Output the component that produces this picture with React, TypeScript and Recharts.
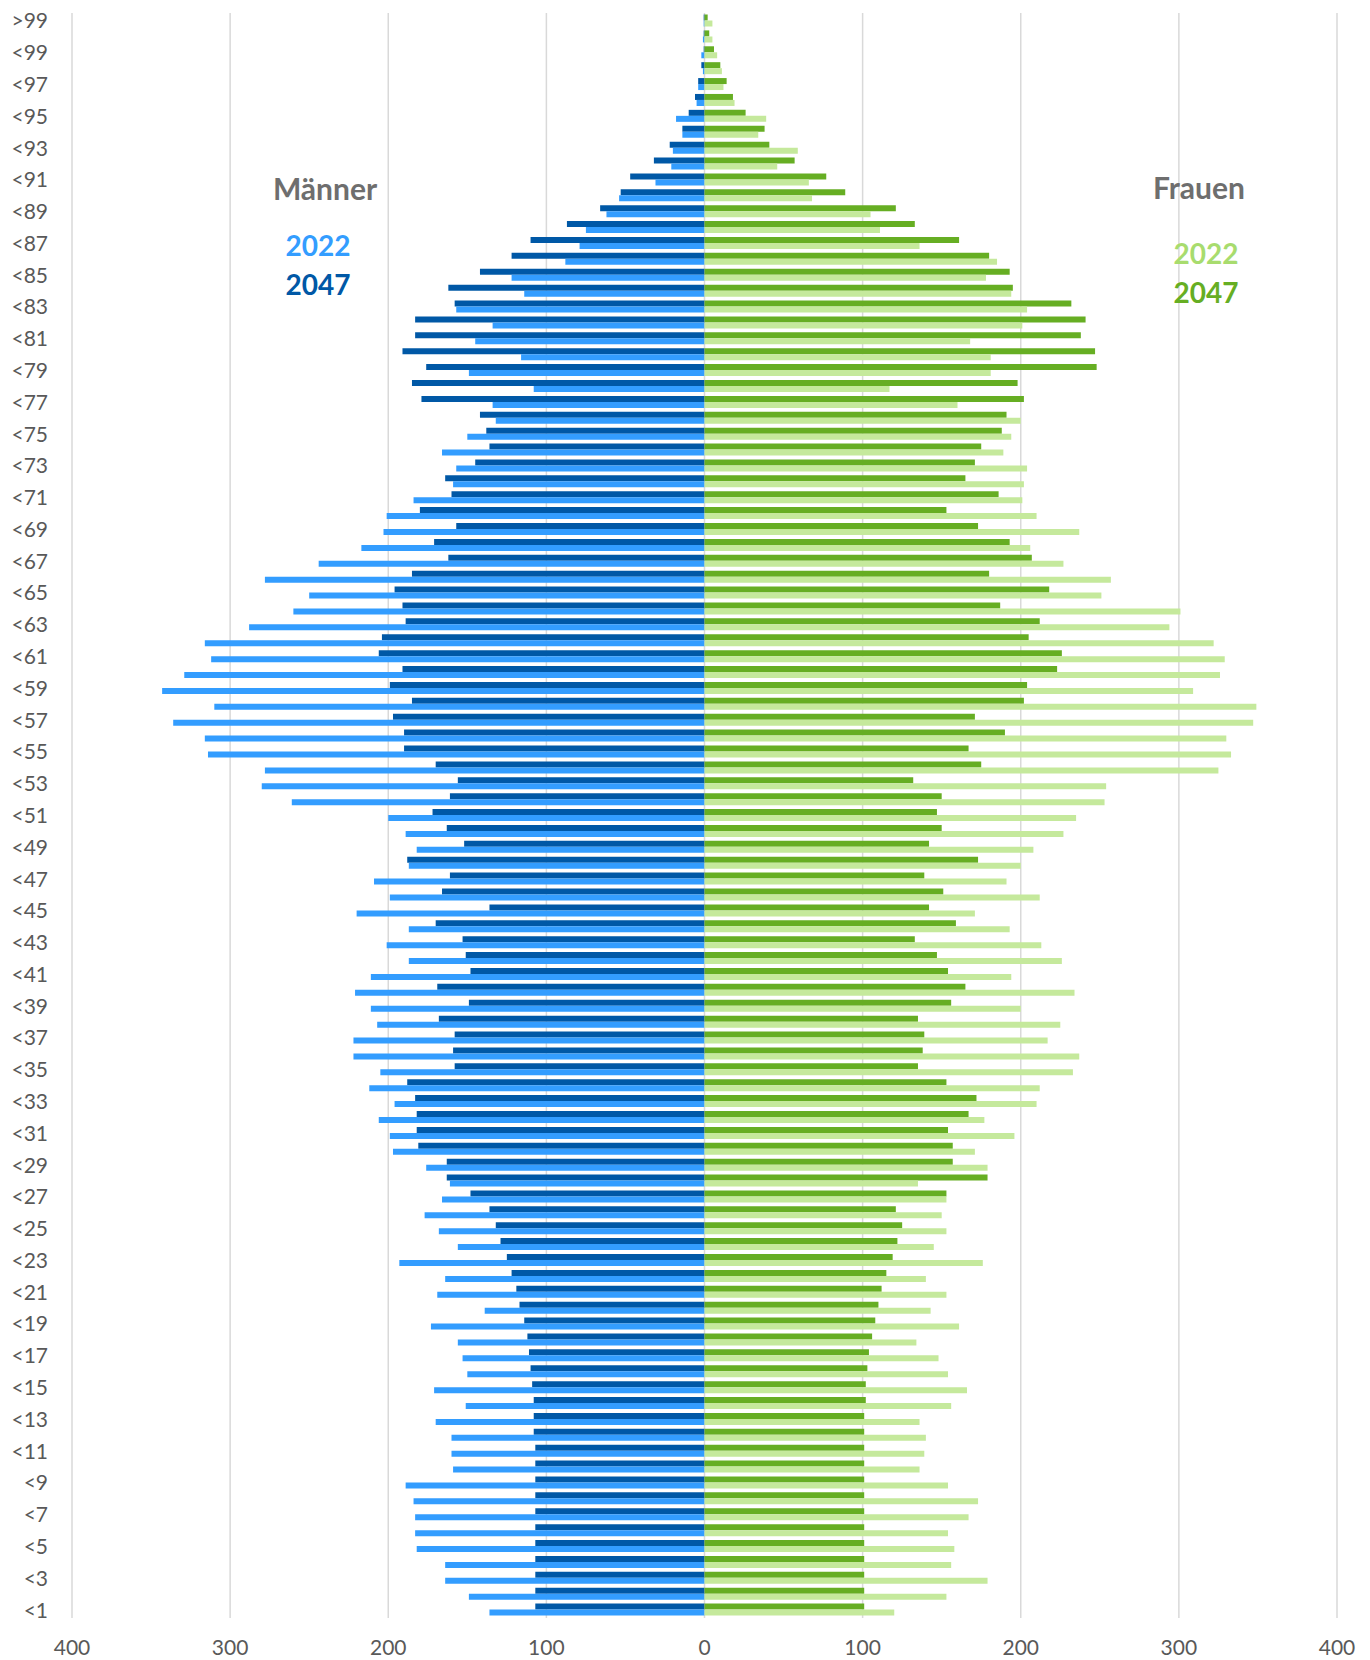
import React from 'react';
import { Bar, BarChart, CartesianGrid, XAxis, YAxis } from 'recharts';

// Altersklassen von oben nach unten
const altersklassen = [
  '>99', '<100', '<99', '<98', '<97', '<96', '<95', '<94', '<93', '<92',
  '<91', '<90', '<89', '<88', '<87', '<86', '<85', '<84', '<83', '<82',
  '<81', '<80', '<79', '<78', '<77', '<76', '<75', '<74', '<73', '<72',
  '<71', '<70', '<69', '<68', '<67', '<66', '<65', '<64', '<63', '<62',
  '<61', '<60', '<59', '<58', '<57', '<56', '<55', '<54', '<53', '<52',
  '<51', '<50', '<49', '<48', '<47', '<46', '<45', '<44', '<43', '<42',
  '<41', '<40', '<39', '<38', '<37', '<36', '<35', '<34', '<33', '<32',
  '<31', '<30', '<29', '<28', '<27', '<26', '<25', '<24', '<23', '<22',
  '<21', '<20', '<19', '<18', '<17', '<16', '<15', '<14', '<13', '<12',
  '<11', '<10', '<9', '<8', '<7', '<6', '<5', '<4', '<3', '<2',
  '<1',
];

const maenner2047 = [
  0.5, 0.5, 0.5, 2, 4, 6, 10, 14, 22, 32,
  47, 53, 66, 87, 110, 122, 142, 162, 158, 183,
  183, 191, 176, 185, 179, 142, 138, 136, 145, 164,
  160, 180, 157, 171, 162, 185, 196, 191, 189, 204,
  206, 191, 199, 185, 197, 190, 190, 170, 156, 161,
  172, 163, 152, 188, 161, 166, 136, 170, 153, 151,
  148, 169, 149, 168, 158, 159, 158, 188, 183, 182,
  182, 181, 163, 163, 148, 136, 132, 129, 125, 122,
  119, 117, 114, 112, 111, 110, 109, 108, 108, 108,
  107, 107, 107, 107, 107, 107, 107, 107, 107, 107,
  107,
];

const maenner2022 = [
  0.5, 1, 2, 1, 4, 5, 18, 14, 20, 21,
  31, 54, 62, 75, 79, 88, 122, 114, 157, 134,
  145, 116, 149, 108, 134, 132, 150, 166, 157, 159,
  184, 201, 203, 217, 244, 278, 250, 260, 288, 316,
  312, 329, 343, 310, 336, 316, 314, 278, 280, 261,
  200, 189, 182, 187, 209, 199, 220, 187, 201, 187,
  211, 221, 211, 207, 222, 222, 205, 212, 196, 206,
  199, 197, 176, 161, 166, 177, 168, 156, 193, 164,
  169, 139, 173, 156, 153, 150, 171, 151, 170, 160,
  160, 159, 189, 184, 183, 183, 182, 164, 164, 149,
  136,
];

const frauen2047 = [
  2, 3, 6, 10, 14, 18, 26, 38, 41, 57,
  77, 89, 121, 133, 161, 180, 193, 195, 232, 241,
  238, 247, 248, 198, 202, 191, 188, 175, 171, 165,
  186, 153, 173, 193, 207, 180, 218, 187, 212, 205,
  226, 223, 204, 202, 171, 190, 167, 175, 132, 150,
  147, 150, 142, 173, 139, 151, 142, 159, 133, 147,
  154, 165, 156, 135, 139, 138, 135, 153, 172, 167,
  154, 157, 157, 179, 153, 121, 125, 122, 119, 115,
  112, 110, 108, 106, 104, 103, 102, 102, 101, 101,
  101, 101, 101, 101, 101, 101, 101, 101, 101, 101,
  101,
];

const frauen2022 = [
  5, 5, 8, 11, 12, 19, 39, 34, 59, 46,
  66, 68, 105, 111, 136, 185, 178, 194, 204, 201,
  168, 181, 181, 117, 160, 200, 194, 189, 204, 202,
  201, 210, 237, 206, 227, 257, 251, 301, 294, 322,
  329, 326, 309, 349, 347, 330, 333, 325, 254, 253,
  235, 227, 208, 200, 191, 212, 171, 193, 213, 226,
  194, 234, 200, 225, 217, 237, 233, 212, 210, 177,
  196, 171, 179, 135, 153, 150, 153, 145, 176, 140,
  153, 143, 161, 134, 148, 154, 166, 156, 136, 140,
  139, 136, 154, 173, 167, 154, 158, 156, 179, 153,
  120,
];

const xTicks = [-400, -300, -200, -100, 0, 100, 200, 300, 400];

const FARBE = {
  m2022: '#339DFF',
  m2047: '#0058A6',
  f2022: '#C5E99C',
  f2047: '#66AE23',
  text: '#595959',
  titel: '#6E6E6E',
  grid: '#D9D9D9',
};

const FONT = 'Lato, "Open Sans", sans-serif';

const rows = altersklassen.map((label, i) => ({
  label,
  m2047: -maenner2047[i],
  f2047: frauen2047[i],
  m2022: -maenner2022[i],
  f2022: frauen2022[i],
}));

function Beschriftung({
  x,
  y,
  color,
  size,
  children,
}: {
  x: number;
  y: number;
  color: string;
  size: number;
  children: React.ReactNode;
}) {
  return (
    <div
      style={{
        position: 'absolute',
        left: x,
        top: y,
        transform: 'translate(-50%, -50%)',
        color,
        fontSize: size,
        fontWeight: 700,
        fontFamily: FONT,
        whiteSpace: 'nowrap',
        lineHeight: 1,
      }}
    >
      {children}
    </div>
  );
}

export default function App() {
  return (
    <div style={{ position: 'relative', width: 1354, height: 1652 }}>
      <BarChart
        width={1354}
        height={1652}
        data={rows}
        layout="vertical"
        stackOffset="sign"
        barCategoryGap={1.5}
        barGap={0}
        margin={{ top: 5, right: 25, bottom: 0, left: 0 }}
      >
        <CartesianGrid horizontal={false} stroke={FARBE.grid} strokeWidth={1.5} />
        <XAxis
          type="number"
          domain={[-400, 400]}
          ticks={xTicks}
          tickFormatter={(v: number) => String(Math.abs(v))}
          axisLine={false}
          tickLine={false}
          tickSize={0}
          tickMargin={22}
          height={42}
          tick={{ fill: FARBE.text, fontSize: 21, fontFamily: FONT }}
        />
        <YAxis
          type="category"
          dataKey="label"
          interval={1}
          axisLine={false}
          tickLine={false}
          tickSize={0}
          tickMargin={24}
          width={64}
          tick={{ fill: FARBE.text, fontSize: 21, fontFamily: FONT }}
        />
        {/* 2047 oben im Band, 2022 darunter */}
        <Bar dataKey="m2047" stackId="a_2047" fill={FARBE.m2047} isAnimationActive={false} />
        <Bar dataKey="f2047" stackId="a_2047" fill={FARBE.f2047} isAnimationActive={false} />
        <Bar dataKey="m2022" stackId="b_2022" fill={FARBE.m2022} isAnimationActive={false} />
        <Bar dataKey="f2022" stackId="b_2022" fill={FARBE.f2022} isAnimationActive={false} />
      </BarChart>

      <Beschriftung x={317} y={180} color={FARBE.titel} size={30}>Männer</Beschriftung>
      <Beschriftung x={310} y={237} color={FARBE.m2022} size={28}>2022</Beschriftung>
      <Beschriftung x={310} y={276} color={FARBE.m2047} size={28}>2047</Beschriftung>

      <Beschriftung x={1191} y={179} color={FARBE.titel} size={30}>Frauen</Beschriftung>
      <Beschriftung x={1198} y={245} color="#A8DC6E" size={28}>2022</Beschriftung>
      <Beschriftung x={1198} y={284} color={FARBE.f2047} size={28}>2047</Beschriftung>
    </div>
  );
}
